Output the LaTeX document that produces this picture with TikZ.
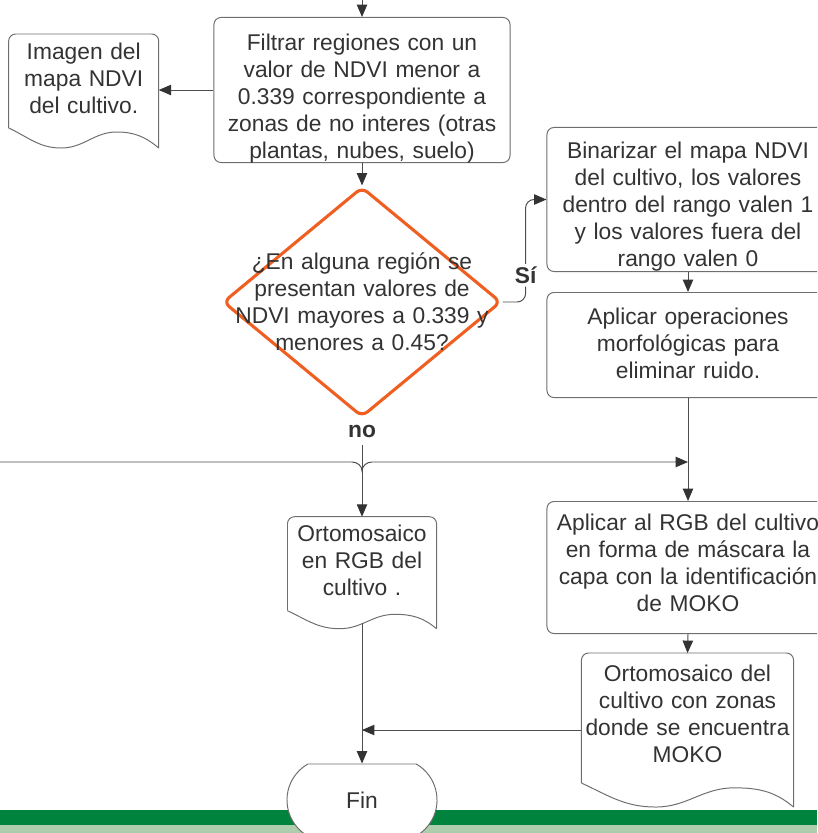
\documentclass[tikz,border=0pt]{standalone}
\usepackage{fontspec}
\setmainfont{Liberation Sans}
\usetikzlibrary{positioning}
\usetikzlibrary{arrows.meta}
\usetikzlibrary{shapes.geometric}
\usetikzlibrary{shapes.misc}
\usetikzlibrary{calc}
\definecolor{textgray}{HTML}{333333}
\definecolor{linegray}{HTML}{4D4D4D}
\definecolor{tipgray}{HTML}{333333}
\definecolor{boxgray}{HTML}{6E6E6E}
\definecolor{decorange}{RGB}{240,95,34}
\definecolor{bardark}{RGB}{0,132,61}
\definecolor{barlight}{RGB}{173,205,172}
\tikzset{>={Triangle[width=2.6mm,length=3.1mm,color=tipgray]}}
\tikzset{
  every node/.style={font={\fontsize{16.2}{19.2}\selectfont}, text=textgray},
  box/.style={draw=boxgray, rounded corners=5pt, inner sep=0pt, align=center, anchor=north},
  doc/.style={inner sep=0pt, align=center, anchor=north},
  dia/.style={diamond, draw=decorange, line width=2.2pt, rounded corners=5pt,
    minimum width=6.95cm, minimum height=5.75cm, inner sep=0pt},
  diatext/.style={text width=7cm, align=center},
  term/.style={rounded rectangle, rounded rectangle arc length=120, draw=boxgray,
    fill=white, minimum width=3.75cm, minimum height=1.8cm, inner sep=0pt},
  lbl/.style={font={\fontsize{16.2}{19.2}\selectfont\bfseries}, fill=white, inner sep=2pt}
}
% document shape: straight top, wavy bottom
\newcommand{\docoutline}[2]{%
  \draw [draw=boxgray, rounded corners=5pt] ($(#1.south west)+(0,#2)$) -- (#1.north west) -- (#1.north east) -- (#1.south east);
  \draw [draw=boxgray] ($(#1.south west)+(0,#2)$) to[out=-25,in=180] ($(#1.south west)!0.35!(#1.south east)$)
    to[out=0,in=180] ($(#1.south west)!0.72!(#1.south east)+(0,#2*0.8)$) to[out=0,in=140] (#1.south east);
}

\begin{document}
\begin{tikzpicture}[x=0.025cm, y=0.025cm, color=linegray, line width=0.7pt]
\useasboundingbox (0,0) rectangle (817,-833);
\clip (0,0) rectangle (817,-833);
\fill [bardark] (0,-810) rectangle (817,-825);
\fill [barlight] (0,-825) rectangle (817,-833);

\node (filt) [box, text width=7.4cm, text height=0.825cm, text depth=2.8cm] at (362,-17)
  {Filtrar regiones con un\\valor de NDVI menor a\\0.339 correspondiente a\\zonas de no interes (otras\\plantas, nubes, suelo)};
\node (imgdoc) [doc, text width=3.725cm, text height=0.625cm, text depth=2.2cm] at (83.7,-34)
  {Imagen del\\mapa NDVI\\del cultivo.};
\docoutline{imgdoc}{20}
\node (dec) [dia, label={[diatext]center:{¿En alguna región se\\presentan valores de\\NDVI mayores a 0.339 y\\menores a 0.45?}}] at (362,-302) {};
\node (bin) [box, text width=7.05cm, text height=0.775cm, text depth=2.825cm] at (688,-127)
  {Binarizar el mapa NDVI\\del cultivo, los valores\\dentro del rango valen 1\\y los valores fuera del\\rango valen 0};
\node (morf) [box, text width=7.05cm, text height=0.8cm, text depth=1.825cm] at (688,-292)
  {Aplicar operaciones\\morfológicas para\\eliminar ruido.};
\node (rgb) [box, text width=7.05cm, text height=0.725cm, text depth=2.575cm] at (688,-501)
  {Aplicar al RGB del cultivo\\en forma de máscara la\\capa con la identificación\\de MOKO};
\node (ortho) [doc, text width=3.7cm, text height=0.6cm, text depth=2.175cm] at (362,-516.7)
  {Ortomosaico\\en RGB del\\cultivo .};
\docoutline{ortho}{18}
\node (odoc) [doc, text width=5.275cm, text height=0.7cm, text depth=3.125cm] at (687.5,-653)
  {Ortomosaico del\\cultivo con zonas\\donde se encuentra\\MOKO};
\docoutline{odoc}{24}
\node (fin) [term] at (362,-800) {Fin};

\coordinate (inT) at (362,0);
\coordinate (inL) at (0,-462);
\coordinate (hop) at (inL -| dec.south);

\path [draw, ->] (inT) -- (filt.north);
\path [draw, ->] (filt.west) -- (filt.west -| imgdoc.east);
\path [draw, ->] (filt.south) -- (dec.north);
\path [draw, ->, rounded corners=6pt] (dec.east) -- ++(23,0) |- node [lbl, pos=0.13, minimum height=0.55cm] {Sí} (bin.west);
\path [draw, ->] (bin.south) -- (morf.north);
\path [draw, ->] (morf.south) -- (rgb.north);
\path [draw, ->] (rgb.south) -- (odoc.north);
\path [draw, ->] (dec.south) -- node [lbl, pos=0.13, minimum height=0.7cm] {no} (ortho.north);
\path [draw, ->] (inL) -- ($(hop)+(-10,0)$) to[out=0,in=90] ($(hop)+(0,-9)$)
  to[out=90,in=180] ($(hop)+(10,0)$) -- (hop -| rgb.north);
\path [draw, ->] ($(ortho.south)+(0,6)$) -- (fin.north);
\path [draw, ->] (odoc.west) -- (odoc.west -| fin.north);
\end{tikzpicture}
\end{document}
